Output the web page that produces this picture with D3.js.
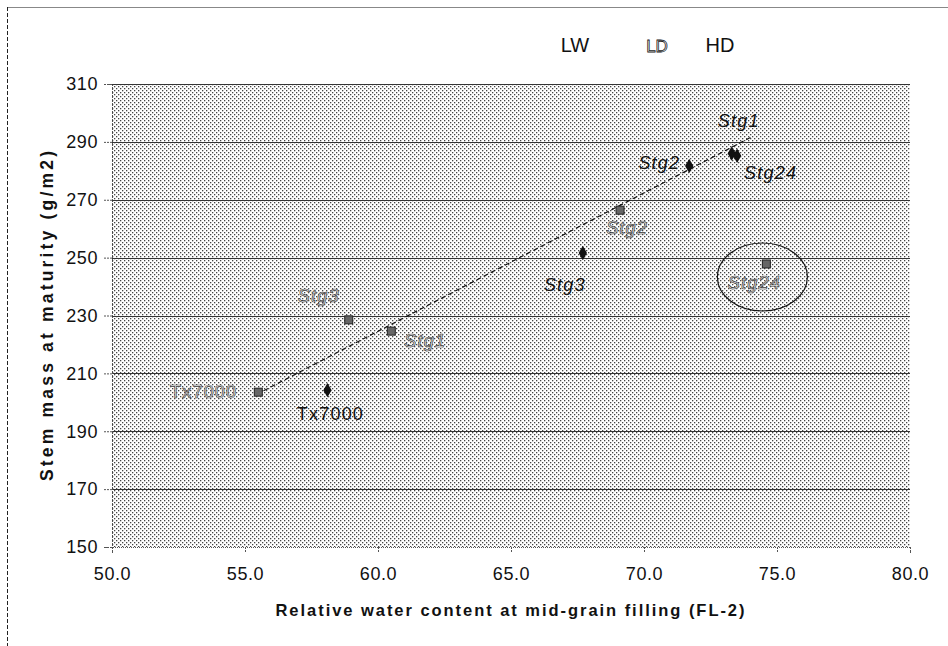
<!DOCTYPE html>
<html><head><meta charset="utf-8">
<script src="https://cdn.jsdelivr.net/npm/d3@7"></script>
<style>body{margin:0;background:#fff;} svg{display:block;font-family:"Liberation Sans",Arial,sans-serif;}</style>
</head><body><svg id="c" width="948" height="646"></svg>
<script>
// ---- data ----
const xTicks = [50, 55, 60, 65, 70, 75, 80];
const yTicks = [150, 170, 190, 210, 230, 250, 270, 290, 310];
const legendNames = ["LW", "LD", "HD"];
// LD series (grey squares, hollow labels)
const ldNames = ["Tx7000", "Stg3", "Stg1", "Stg2", "Stg24"];
const ldX = [55.5, 58.9, 60.5, 69.1, 74.6];
const ldY = [203.5, 228.5, 224.6, 266.4, 247.8];
// HD series (black diamonds)
const hdNames = ["Tx7000", "Stg3", "Stg2", "Stg1", "Stg24"];
const hdX = [58.1, 67.7, 71.7, 73.3, 73.5];
const hdY = [204.2, 251.6, 281.7, 286.0, 285.2];
// trend line
const trendX = [55.7, 74.0];
const trendY = [204.0, 291.5];
// circled point
const circX = 74.45, circY = 243.3;

// ---- layout ----
const svg = d3.select("#c");
const x = d3.scaleLinear().domain([50, 80]).range([112, 910]);
const y = d3.scaleLinear().domain([150, 310]).range([547, 84]);

// outer frame
svg.append("line").attr("x1", 7).attr("x2", 948).attr("y1", 7.5).attr("y2", 7.5).attr("stroke", "#888").attr("stroke-width", 1.2);
svg.append("line").attr("x1", 7.5).attr("x2", 7.5).attr("y1", 7).attr("y2", 646).attr("stroke", "#222").attr("stroke-dasharray", "4,2");

// pattern
const defs = svg.append("defs");
const pat = defs.append("pattern").attr("id", "stip").attr("patternUnits", "userSpaceOnUse").attr("width", 4).attr("height", 4);
pat.append("rect").attr("width", 4).attr("height", 4).attr("fill", "#fff");
pat.append("rect").attr("x", 0).attr("y", 0).attr("width", 1.3).attr("height", 1.3).attr("fill", "#444");
pat.append("rect").attr("x", 2).attr("y", 2).attr("width", 1.3).attr("height", 1.3).attr("fill", "#444");

svg.append("rect").attr("x", x(50)).attr("y", y(310)).attr("width", x(80) - x(50)).attr("height", y(150) - y(310)).attr("fill", "url(#stip)");

// gridlines
svg.append("g").selectAll("line").data(yTicks.filter(d => d > 150)).join("line")
  .attr("x1", x(50)).attr("x2", x(80)).attr("y1", d => Math.round(y(d)) + 0.5).attr("y2", d => Math.round(y(d)) + 0.5)
  .attr("stroke", "#333").attr("stroke-width", 1);

// axes
const yAxis = d3.axisLeft(y).tickValues(yTicks).tickSize(8).tickPadding(6).tickFormat(d3.format("d"));
const gy = svg.append("g").attr("transform", `translate(${x(50)},0)`).call(yAxis);
const xAxis = d3.axisBottom(x).tickValues(xTicks).tickSize(6).tickPadding(14).tickFormat(d3.format(".1f"));
const gx = svg.append("g").attr("transform", `translate(0,${y(150)})`).call(xAxis);
[gx, gy].forEach(g => {
  g.select(".domain").attr("stroke", "#555").attr("stroke-dasharray", "1,1");
  g.selectAll(".tick line").attr("stroke", "#555").attr("stroke-dasharray", "2,1");
  g.selectAll("text").attr("font-size", 18).attr("fill", "#111").attr("letter-spacing", 0.6)
    .attr("font-family", "Liberation Sans, Arial, sans-serif");
});

// axis titles
svg.append("text").attr("x", 510).attr("y", 616).attr("text-anchor", "middle").attr("font-weight", "bold").attr("font-size", 16.5).attr("fill", "#111")
  .attr("textLength", 469).attr("lengthAdjust", "spacing")
  .text("Relative water content at mid-grain filling (FL-2)");
svg.append("text").attr("transform", "translate(53,316) rotate(-90)").attr("text-anchor", "middle").attr("font-weight", "bold").attr("font-size", 17.5).attr("fill", "#111")
  .attr("textLength", 330).attr("lengthAdjust", "spacing")
  .text("Stem mass at maturity (g/m2)");

// legend
const legX = [575, 657, 720];
svg.append("g").selectAll("text").data(legendNames).join("text")
  .attr("x", (d, i) => legX[i]).attr("y", 52).attr("text-anchor", "middle")
  .attr("font-size", (d, i) => i === 1 ? 17 : 20)
  .attr("fill", (d, i) => i === 1 ? "#fff" : "#111")
  .attr("stroke", (d, i) => i === 1 ? "#222" : "none").attr("stroke-width", 0.8)
  .text(d => d);

// trend line
const tr = trendX.map((v, i) => [x(v), y(trendY[i])]);
svg.append("path").attr("d", d3.line()(tr)).attr("fill", "none").attr("stroke", "#111").attr("stroke-width", 1.2).attr("stroke-dasharray", "5,3");

// ellipse
svg.append("ellipse").attr("cx", x(circX)).attr("cy", y(circY)).attr("rx", 45).attr("ry", 34).attr("fill", "none").attr("stroke", "#111").attr("stroke-width", 1.2);

// LD points
svg.append("g").selectAll("rect").data(ldX).join("rect")
  .attr("x", (d) => x(d) - 4).attr("y", (d, i) => y(ldY[i]) - 4).attr("width", 8).attr("height", 8)
  .attr("fill", "#666").attr("stroke", "#222").attr("stroke-width", 1);
// HD points
const sym = d3.symbol().type(d3.symbolDiamond).size(60);
svg.append("g").selectAll("path").data(hdX).join("path")
  .attr("transform", (d, i) => `translate(${x(d)},${y(hdY[i])})`).attr("d", sym).attr("fill", "#111");

// labels
const ldOff = [[-21, 6, "end"], [-30, -18, "middle"], [13, 16, "start"], [7, 24, "middle"], [-12, 25, "middle"]];
const hdOff = [[3, 30, "middle"], [-18, 38, "middle"], [-9, 3, "end"], [7, -26, "middle"], [7, 23, "start"]];
svg.append("g").selectAll("text").data(ldNames).join("text")
  .attr("x", (d, i) => x(ldX[i]) + ldOff[i][0]).attr("y", (d, i) => y(ldY[i]) + ldOff[i][1])
  .attr("text-anchor", (d, i) => ldOff[i][2]).attr("font-size", 18).attr("letter-spacing", 1.2)
  .attr("font-style", d => d.startsWith("Stg") ? "italic" : "normal")
  .attr("fill", "#f2f2f2").attr("stroke", "#3a3a3a").attr("stroke-width", 0.7)
  .text(d => d);
svg.append("g").selectAll("text").data(hdNames).join("text")
  .attr("x", (d, i) => x(hdX[i]) + hdOff[i][0]).attr("y", (d, i) => y(hdY[i]) + hdOff[i][1])
  .attr("text-anchor", (d, i) => hdOff[i][2]).attr("font-size", 18).attr("letter-spacing", 1.2)
  .attr("font-style", d => d.startsWith("Stg") ? "italic" : "normal")
  .attr("fill", "#111")
  .text(d => d);
</script></body></html>
